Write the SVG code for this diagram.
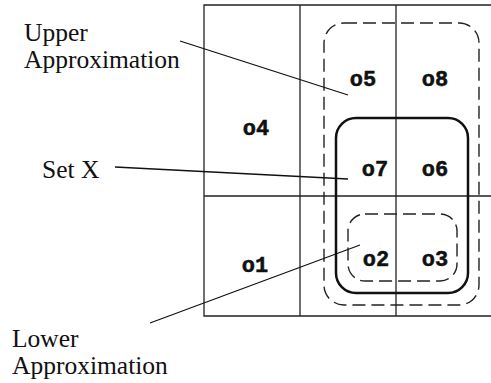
<svg xmlns="http://www.w3.org/2000/svg" width="491" height="383" viewBox="0 0 491 383">
<style>
.grid{fill:none;stroke:#222;stroke-width:1.3}
.dash{fill:none;stroke:#222;stroke-width:1.4;stroke-dasharray:13 6}
.set{fill:none;stroke:#111;stroke-width:2.5}
.obj{font-family:"Liberation Mono",monospace;font-weight:bold;font-size:22px;fill:#111;stroke:#111;stroke-width:0.5;text-anchor:middle}
.lbl{font-family:"Liberation Serif",serif;font-size:25.5px;fill:#111}
.con{stroke:#111;stroke-width:1.3;fill:none}
</style>
<rect width="491" height="383" fill="#fff"/>
<g id="grid">
<path class="grid" d="M492,5 H204 V316 H492 M204,196 H492 M300,5 V316 M396,5 V316"/>
</g>
<g id="upper-approximation"><rect class="dash" x="324" y="23" width="155" height="282" rx="20"/></g>
<g id="set-x"><rect class="set" x="336" y="118" width="132" height="175" rx="20"/></g>
<g id="lower-approximation"><rect class="dash" x="348" y="214" width="109" height="67" rx="17"/></g>
<g id="o5"><text class="obj" x="363" y="86">o5</text></g>
<g id="o8"><text class="obj" x="435" y="86">o8</text></g>
<g id="o4"><text class="obj" x="256" y="135">o4</text></g>
<g id="o7"><text class="obj" x="375" y="176">o7</text></g>
<g id="o6"><text class="obj" x="435" y="176">o6</text></g>
<g id="o1"><text class="obj" x="255" y="272">o1</text></g>
<g id="o2"><text class="obj" x="376" y="266">o2</text></g>
<g id="o3"><text class="obj" x="435" y="266">o3</text></g>
<g id="label-upper"><text class="lbl" x="24" y="41">Upper</text><text class="lbl" x="24" y="68">Approximation</text></g>
<g id="label-set"><text class="lbl" x="42" y="178">Set X</text></g>
<g id="label-lower"><text class="lbl" x="12" y="347">Lower</text><text class="lbl" x="12" y="374">Approximation</text></g>
<g id="connectors">
<line class="con" x1="180" y1="41" x2="348" y2="95"/>
<line class="con" x1="115" y1="167" x2="348" y2="179"/>
<line class="con" x1="150" y1="323" x2="360" y2="245"/>
</g>
</svg>
